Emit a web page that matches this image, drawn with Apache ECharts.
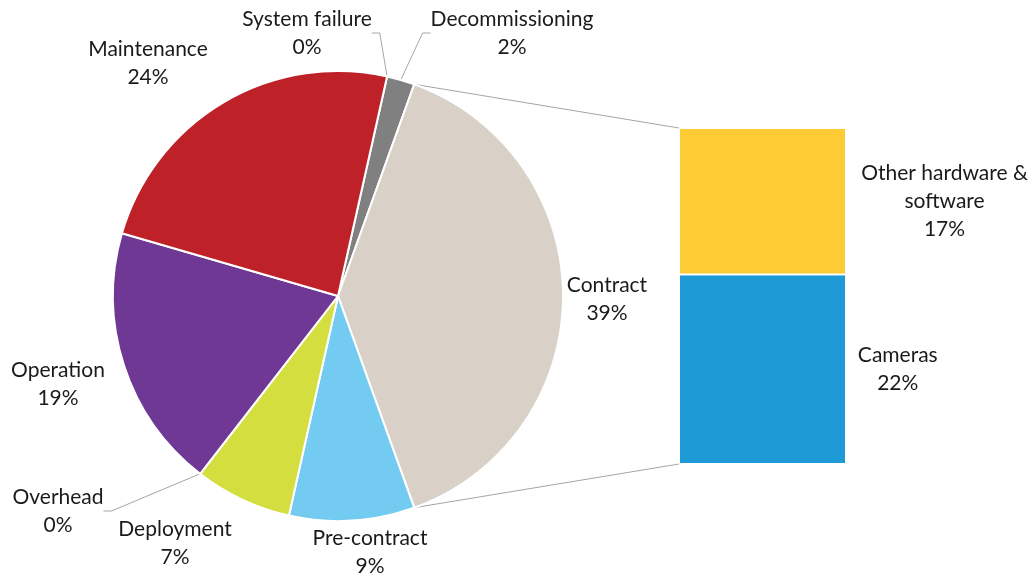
<!DOCTYPE html>
<html>
<head>
<meta charset="utf-8">
<script src="https://cdn.jsdelivr.net/npm/echarts@6/dist/echarts.min.js"></script>
<style>html,body{margin:0;padding:0;background:#fff;}#c{width:1033px;height:577px;}</style>
</head>
<body>
<div id="c"></div>
<script>
var pieNames = ['System failure', 'Decommissioning', 'Contract', 'Pre-contract', 'Deployment', 'Overhead', 'Operation', 'Maintenance'];
var pieValues = [0, 2, 39, 9, 7, 0, 19, 24];
var pieColors = ['#7f7f7f', '#808080', '#d9d0c7', '#73cbf1', '#d4df3f', '#7030a0', '#6f3894', '#be2228'];
var barNames = ['Cameras', 'Other hardware &\nsoftware'];
var barValues = [22, 17];
var barColors = ['#1e9ad6', '#fdcb33'];

var FONT = 'Lato';
var FS = 21;
var pieCenter = [338, 296];
var pieRadius = 225;
var startAngle = 77.4;
var grid = {left: 679, top: 128, width: 167, height: 336};

var labelPos = [[307, 33], [512, 33], [607, 299], [370, 552], [175, 543], [58, 511], [58, 384], [148, 63]];
var showLine = [true, true, false, false, false, true, false, false];

var total = pieValues.reduce(function (a, b) { return a + b; }, 0);
var pieData = pieNames.map(function (n, i) {
  return {
    name: n, value: pieValues[i],
    itemStyle: {color: pieColors[i]},
    labelLine: {show: showLine[i], lineStyle: {color: '#a6a6a6', width: 1}}
  };
});

var chart = echarts.init(document.getElementById('c'));
var option = {
  animation: false,
  backgroundColor: '#fff',
  grid: grid,
  xAxis: {type: 'category', data: ['Contract'], show: false},
  yAxis: {type: 'value', min: 0, max: barValues[0] + barValues[1], show: false},
  series: [
    {
      type: 'pie',
      center: pieCenter,
      radius: pieRadius,
      startAngle: startAngle,
      clockwise: true,
      data: pieData,
      itemStyle: {borderColor: '#fff', borderWidth: 2},
      label: {
        show: true, overflow: 'none',
        fontFamily: FONT, fontSize: FS, lineHeight: 28, color: '#1a1a1a',
        align: 'center',
        formatter: function (p) { return p.name + '\n' + Math.round(p.value / total * 100) + '%'; }
      },
      labelLine: {length: 10, length2: 8},
      labelLayout: function (p) {
        var pos = labelPos[p.dataIndex];
        return {x: pos[0], y: pos[1], align: 'center', verticalAlign: 'middle'};
      }
    },
    {
      type: 'bar', stack: 's', barWidth: '100%',
      data: [barValues[0]],
      itemStyle: {color: barColors[0], borderColor: '#fff', borderWidth: 1},
      label: {
        show: true, position: ['131%', '50%'], align: 'center', verticalAlign: 'middle',
        fontFamily: FONT, fontSize: FS, lineHeight: 28, color: '#1a1a1a',
        formatter: barNames[0] + '\n' + Math.round(barValues[0] / total * 100) + '%'
      }
    },
    {
      type: 'bar', stack: 's', barWidth: '100%',
      data: [barValues[1]],
      itemStyle: {color: barColors[1], borderColor: '#fff', borderWidth: 1},
      label: {
        show: true, position: ['159%', '50%'], align: 'center', verticalAlign: 'middle',
        fontFamily: FONT, fontSize: FS, lineHeight: 28, color: '#1a1a1a',
        formatter: barNames[1] + '\n' + Math.round(barValues[1] / total * 100) + '%'
      }
    }
  ]
};
chart.setOption(option);

// connector lines from the contract slice edges to the bar corners
var before = pieValues[0] + pieValues[1];
var a1 = (90 - startAngle) + before / total * 360;
var a2 = a1 + pieValues[2] / total * 360;
function pt(a) {
  var r = a * Math.PI / 180;
  return [pieCenter[0] + pieRadius * Math.sin(r), pieCenter[1] - pieRadius * Math.cos(r)];
}
var p1 = pt(a1), p2 = pt(a2);
var topPx = chart.convertToPixel({gridIndex: 0}, [0, barValues[0] + barValues[1]]);
var botPx = chart.convertToPixel({gridIndex: 0}, [0, 0]);
chart.setOption({
  graphic: [
    {type: 'line', shape: {x1: p1[0], y1: p1[1], x2: grid.left, y2: topPx[1]}, style: {stroke: '#a6a6a6', lineWidth: 1}, z: 0},
    {type: 'line', shape: {x1: p2[0], y1: p2[1], x2: grid.left, y2: botPx[1]}, style: {stroke: '#a6a6a6', lineWidth: 1}, z: 0}
  ]
});
</script>
</body>
</html>
